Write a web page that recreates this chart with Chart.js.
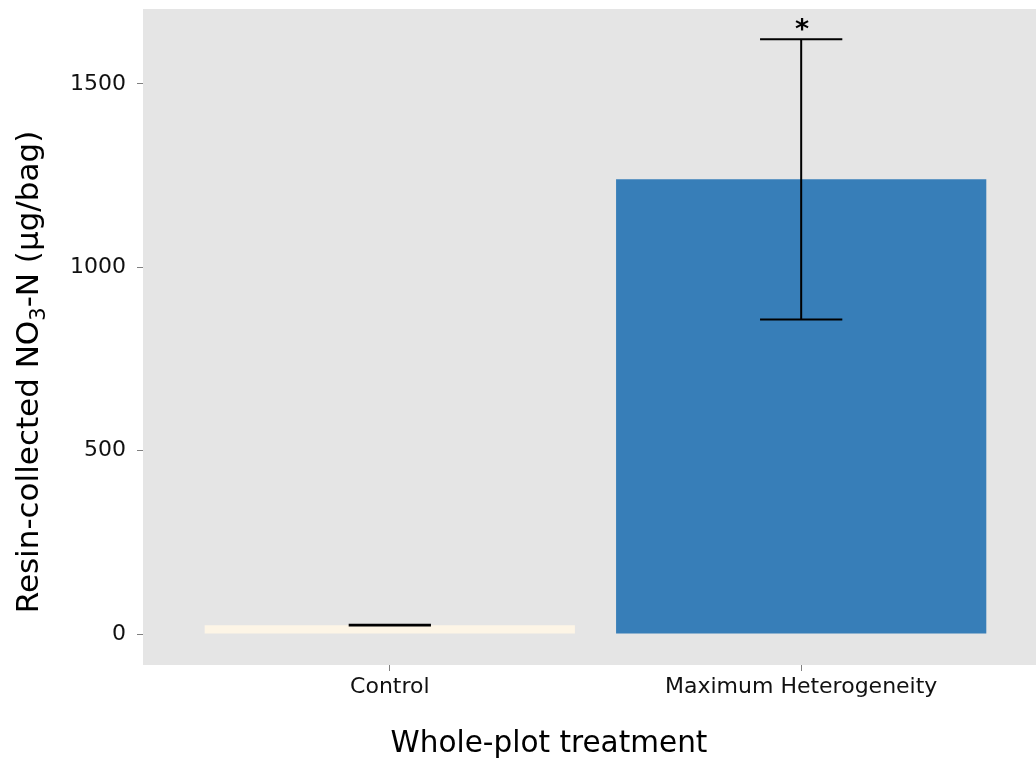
<!DOCTYPE html>
<html><head><meta charset="utf-8">
<script src="https://cdn.jsdelivr.net/npm/chart.js@4.4.0/dist/chart.umd.min.js"></script>
<style>
html,body{margin:0;padding:0;background:#fff;overflow:hidden;}
#wrap{width:1036px;height:765px;overflow:hidden;position:relative;}
canvas{display:block;}
</style></head><body>
<div id="wrap"><canvas id="c" width="1048" height="765"></canvas></div>
<script>
// ---- data ----
const categories = ['Control', 'Maximum Heterogeneity'];
const positions = [1, 2];
const means = [24, 1240];
const errLow = [23, 858];
const errHigh = [25, 1622];
const sigLabels = ['', '*'];
const yTicks = [0, 500, 1000, 1500];
const xTitle = 'Whole-plot treatment';
const yTitleParts = ['Resin-collected NO', '3', '-N (\u00B5g/bag)'];

// ---- styles ----
const barColors = ['#FDF5E6', '#377EB8'];
const panelColor = '#E5E5E5';
const FONT = "'DejaVu Sans', sans-serif";
const capWidth = 0.2;

Chart.defaults.font.family = FONT;

const panelBg = {
  id: 'panelBg',
  beforeDraw(chart) {
    const {ctx, chartArea: a} = chart;
    ctx.save();
    ctx.fillStyle = panelColor;
    ctx.fillRect(a.left, a.top, a.right - a.left, a.bottom - a.top);
    ctx.restore();
  }
};

const errorBars = {
  id: 'errorBars',
  afterDatasetsDraw(chart) {
    const {ctx, scales: {x, y}} = chart;
    ctx.save();
    ctx.strokeStyle = '#000';
    ctx.fillStyle = '#000';
    ctx.lineWidth = 2;
    positions.forEach((p, i) => {
      const cx = x.getPixelForValue(p);
      const half = (x.getPixelForValue(p + capWidth / 2) - x.getPixelForValue(p - capWidth / 2)) / 2;
      const yl = y.getPixelForValue(errLow[i]);
      const yh = y.getPixelForValue(errHigh[i]);
      ctx.beginPath();
      ctx.moveTo(cx, yl); ctx.lineTo(cx, yh);
      ctx.moveTo(cx - half, yl); ctx.lineTo(cx + half, yl);
      ctx.moveTo(cx - half, yh); ctx.lineTo(cx + half, yh);
      ctx.stroke();
      if (sigLabels[i]) {
        ctx.font = 'bold 27px ' + FONT;
        ctx.textAlign = 'center';
        ctx.textBaseline = 'alphabetic';
        ctx.fillText(sigLabels[i], cx + 1, yh - 1);
      }
    });
    ctx.restore();
  }
};

const axisTitles = {
  id: 'axisTitles',
  afterDraw(chart) {
    const {ctx, chartArea: a} = chart;
    ctx.save();
    ctx.fillStyle = '#000';
    // x title
    ctx.font = '29.5px ' + FONT;
    ctx.textAlign = 'center';
    ctx.textBaseline = 'alphabetic';
    ctx.fillText(xTitle, a.left + 406, a.bottom + 87);
    // y title (rotated, with subscript)
    const big = '31px ' + FONT, small = '21px ' + FONT;
    ctx.font = big;
    const w1 = ctx.measureText(yTitleParts[0]).width;
    const w3 = ctx.measureText(yTitleParts[2]).width;
    ctx.font = small;
    const w2 = ctx.measureText(yTitleParts[1]).width;
    const total = w1 + w2 + w3;
    ctx.translate(a.left - 105, (a.top + a.bottom) / 2 + 35);
    ctx.rotate(-Math.PI / 2);
    ctx.textAlign = 'left';
    let sx = -total / 2;
    ctx.font = big;
    ctx.fillText(yTitleParts[0], sx, 0);
    sx += w1;
    ctx.font = small;
    ctx.fillText(yTitleParts[1], sx, 7);
    sx += w2;
    ctx.font = big;
    ctx.fillText(yTitleParts[2], sx, 0);
    ctx.restore();
  }
};

new Chart(document.getElementById('c'), {
  type: 'bar',
  data: {
    datasets: [{
      data: positions.map((p, i) => ({x: p, y: means[i]})),
      backgroundColor: barColors,
      borderWidth: 0,
      barPercentage: 0.9,
      categoryPercentage: 1.0
    }]
  },
  options: {
    responsive: false,
    animation: false,
    layout: {padding: {top: 9, left: 0, right: 0, bottom: 0}},
    plugins: {legend: {display: false}, tooltip: {enabled: false}},
    scales: {
      x: {
        type: 'linear',
        offset: false,
        min: 0.4,
        max: 2.6,
        afterBuildTicks: s => { s.ticks = positions.map(v => ({value: v})); },
        afterFit: s => { s.height = 100; s.paddingLeft = 0; s.paddingRight = 0; },
        ticks: {
          autoSkip: false,
          maxRotation: 0,
          padding: 3,
          color: '#111',
          font: {size: 22},
          callback: v => { const k = positions.indexOf(v); return k >= 0 ? categories[k] : ''; }
        },
        grid: {offset: false, drawOnChartArea: false, drawTicks: true, tickLength: 6, tickColor: '#808080', tickWidth: 1},
        border: {display: false}
      },
      y: {
        type: 'linear',
        min: -84.5,
        max: 1704.5,
        afterBuildTicks: s => { s.ticks = yTicks.map(v => ({value: v})); },
        afterFit: s => { s.width = 143; s.paddingTop = 0; s.paddingBottom = 0; },
        ticks: {
          padding: 11,
          color: '#111',
          font: {size: 22},
          callback: v => String(v)
        },
        grid: {drawOnChartArea: false, drawTicks: true, tickLength: 6, tickColor: '#808080', tickWidth: 1},
        border: {display: false}
      }
    }
  },
  plugins: [panelBg, errorBars, axisTitles]
});
</script>
</body></html>
